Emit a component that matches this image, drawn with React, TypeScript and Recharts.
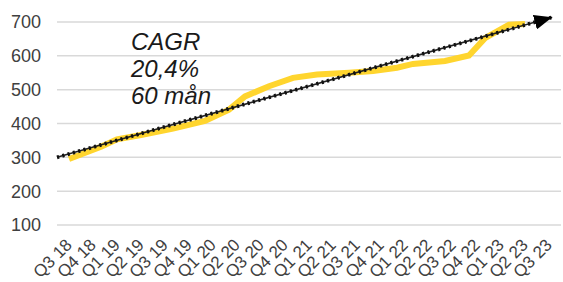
import { LineChart, Line, XAxis, YAxis, CartesianGrid, ReferenceLine } from 'recharts';

// quarter labels on the axis (one every 3 months)
const quarterLabels = [
  'Q3 18', 'Q4 18', 'Q1 19', 'Q2 19', 'Q3 19', 'Q4 19', 'Q1 20', 'Q2 20',
  'Q3 20', 'Q4 20', 'Q1 21', 'Q2 21', 'Q3 21', 'Q4 21', 'Q1 22', 'Q2 22',
  'Q3 22', 'Q4 22', 'Q1 23', 'Q2 23', 'Q3 23',
];
const quarterTicks = quarterLabels.map((_, i) => i * 3);

// months since Q3 18 and index value
const months = [0, 4, 6, 9, 13, 17, 20, 22, 25, 28, 31, 35, 38, 41, 43, 47, 50, 52, 55, 57];
const values = [295, 331, 353, 366, 385, 408, 441, 480, 510, 535, 545, 550, 555, 565, 576, 585, 601, 652, 692, 694];

// CAGR trend arrow: start and end (months, value)
const trendStart = { x: -1.5, y: 300 };
const trendEnd = { x: 60.4, y: 714 };

const yTicks = [100, 200, 300, 400, 500, 600, 700];

const data = months.map((m, i) => ({ m, value: values[i] }));

const font = '"Liberation Sans", Arial, sans-serif';

const QuarterTick = ({ x, y, payload }: any) => (
  <g transform={`translate(${x + 4},${y + 21})`}>
    <text textAnchor="end" transform="rotate(-45)" fontSize={17} fill="#404040" fontFamily={font}>
      {quarterLabels[Math.round(payload.value / 3)]}
    </text>
  </g>
);

const TrendArrow = (props: any) => {
  const { x1, y1, x2, y2 } = props;
  return (
    <g>
      <defs>
        <marker
          id="trendHead"
          markerUnits="userSpaceOnUse"
          markerWidth={18}
          markerHeight={15}
          refX={18}
          refY={7.5}
          orient="auto"
        >
          <path d="M0,0 L18,7.5 L0,15 z" fill="#000" />
        </marker>
      </defs>
      <line x1={x1} y1={y1} x2={x2} y2={y2} stroke="#222" strokeWidth={1.6} />
      <line
        x1={x1}
        y1={y1}
        x2={x2}
        y2={y2}
        stroke="#111"
        strokeWidth={3.8}
        strokeDasharray="2.2 3.3"
        markerEnd="url(#trendHead)"
      />
    </g>
  );
};

const App = () => {
  return (
    <div style={{ position: 'absolute', left: 0, top: 0, width: 563, height: 282, fontFamily: font }}>
      <LineChart width={563} height={282} data={data} margin={{ top: 22, right: 2, left: 0, bottom: 0 }}>
        <CartesianGrid vertical={false} stroke="#d9d9d9" strokeWidth={1.5} />
        <XAxis
          dataKey="m"
          type="number"
          domain={[-1.5, 61.5]}
          ticks={quarterTicks}
          interval={0}
          axisLine={false}
          tickLine={false}
          tickSize={0}
          tickMargin={0}
          height={57}
          tick={<QuarterTick />}
        />
        <YAxis
          domain={[100, 700]}
          ticks={yTicks}
          width={57}
          axisLine={false}
          tickLine={false}
          tickMargin={10}
          tick={{ fontSize: 18, fill: '#404040', fontFamily: font }}
        />
        <Line
          type="linear"
          dataKey="value"
          stroke="#FFD52E"
          strokeWidth={6}
          dot={false}
          activeDot={false}
          isAnimationActive={false}
        />
        <ReferenceLine
          segment={[trendStart, trendEnd]}
          ifOverflow="visible"
          shape={TrendArrow}
        />
      </LineChart>
      <div
        style={{
          position: 'absolute',
          left: 131,
          top: 28,
          fontSize: 24,
          lineHeight: '27px',
          fontStyle: 'italic',
          color: '#1a1a1a',
          fontFamily: font,
        }}
      >
        <div>CAGR</div>
        <div>20,4%</div>
        <div>60 mån</div>
      </div>
    </div>
  );
};

export default App;
